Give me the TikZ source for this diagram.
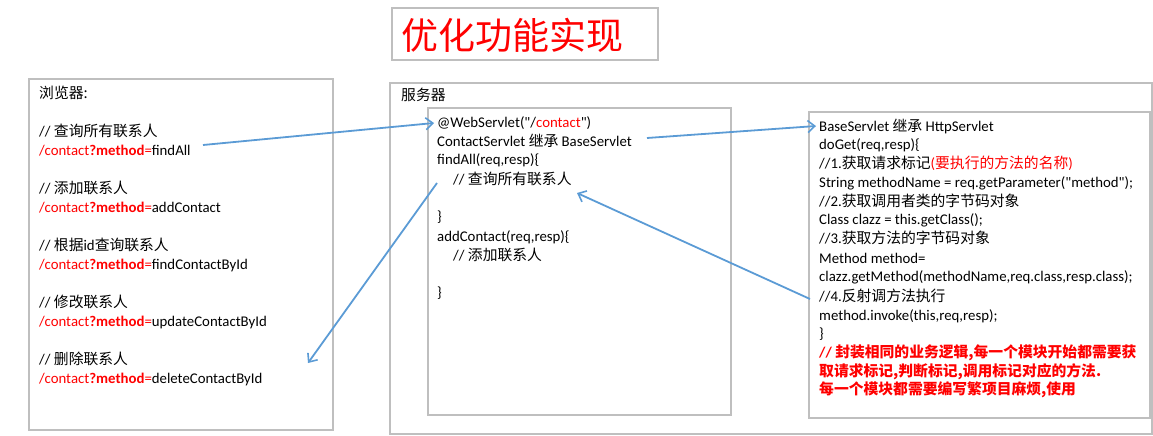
\documentclass[tikz,border=0pt]{standalone}
\usepackage{fontspec}
\setmainfont{Carlito}[Ligatures=TeXOff]
\newfontfamily\cjk{Noto Sans CJK SC}
\usetikzlibrary{arrows.meta}
\definecolor{boxgray}{HTML}{BFBFBF}
\definecolor{arrblue}{HTML}{5B9BD5}
\definecolor{txtred}{HTML}{FF0000}
\newcommand{\zh}[1]{{\cjk #1}}
\newcommand{\rd}[1]{{\color{txtred}#1}}
\newcommand{\url}[1]{\rd{/contact\textbf{?method}=}#1}
\begin{document}
\begin{tikzpicture}[x=1pt,y=-1pt,
  frame/.style={draw=boxgray,line width=1.2pt},
  txt/.style={anchor=west,inner sep=0pt,font=\fontsize{14.8}{16}\selectfont},
  arr/.style={draw=arrblue,line width=1.8pt,-{Straight Barb[length=7pt,width=12pt,line width=1.6pt]}}]
\useasboundingbox (0,0) rectangle (1153,436);
% title
\draw[frame] (392,8) rectangle (658,60);
\node[inner sep=0pt,text=txtred,font=\fontsize{37}{40}\selectfont\cjk] (title) at (512,35) {优化功能实现};
% browser box
\draw[frame] (29,79) rectangle (333,430);
\node[txt] (bt) at (39,93) {\zh{浏览器:}};
\node[txt] (bl1) at (39,131) {// \zh{查询所有联系人}};
\node[txt] (bl2) at (39,151) {\url{findAll}};
\node[txt] (bl3) at (39,188) {// \zh{添加联系人}};
\node[txt] (bl4) at (39,208) {\url{addContact}};
\node[txt] (bl5) at (39,245) {// \zh{根据}id\zh{查询联系人}};
\node[txt] (bl6) at (39,265) {\url{findContactById}};
\node[txt] (bl7) at (39,302) {// \zh{修改联系人}};
\node[txt] (bl8) at (39,322) {\url{updateContactById}};
\node[txt] (bl9) at (39,359) {// \zh{删除联系人}};
\node[txt] (bl10) at (39,379) {\url{deleteContactById}};
% server outer box
\draw[frame] (390,83) rectangle (1152,434);
\node[txt] (st) at (401,95) {\zh{服务器}};
% contact servlet box
\draw[frame] (428,108) rectangle (731,415);
\node[txt] (s1) at (437,123) {@WebServlet("/\rd{contact}")};
\node[txt] (s2) at (437,141) {ContactServlet \zh{继承} BaseServlet};
\node[txt] (s3) at (437,160) {findAll(req,resp)\{};
\node[txt] (s4) at (453,179) {// \zh{查询所有联系人}};
\node[txt] (s5) at (437,217) {\}};
\node[txt] (s6) at (437,237) {addContact(req,resp)\{};
\node[txt] (s7) at (453,255) {// \zh{添加联系人}};
\node[txt] (s8) at (437,293) {\}};
% base servlet box
\draw[frame] (809,112) rectangle (1150,418);
\node[txt] (b1) at (819,126) {BaseServlet \zh{继承} HttpServlet};
\node[txt] (b2) at (819,145) {doGet(req,resp)\{};
\node[txt] (b3) at (819,163) {//1.\zh{获取请求标记}\rd{(\zh{要执行的方法的名称})}};
\node[txt] (b4) at (819,183) {String methodName = req.getParameter("method");};
\node[txt] (b5) at (819,201) {//2.\zh{获取调用者类的字节码对象}};
\node[txt] (b6) at (819,220) {Class clazz = this.getClass();};
\node[txt] (b7) at (819,238) {//3.\zh{获取方法的字节码对象}};
\node[txt] (b8) at (819,258) {Method method=};
\node[txt] (b9) at (819,277) {clazz.getMethod(methodName,req.class,resp.class);};
\node[txt] (b10) at (819,296) {//4.\zh{反射调方法执行}};
\node[txt] (b11) at (819,316) {method.invoke(this,req,resp);};
\node[txt] (b12) at (819,334) {\}};
\node[txt,text=txtred] (b13) at (819,353) {\bfseries // {\cjk\bfseries 封装相同的业务逻辑,每一个模块开始都需要获}};
\node[txt,text=txtred] (b14) at (819,372) {{\cjk\bfseries 取请求标记,判断标记,调用标记对应的方法.}};
\node[txt,text=txtred] (b15) at (819,390) {{\cjk\bfseries 每一个模块都需要编写繁项目麻烦,使用}};
% connectors
\coordinate (a1s) at (203,145);
\coordinate (a2s) at (647,138);
\coordinate (a3s) at (437,183);
\coordinate (a3e) at (308,363);
\coordinate (a4s) at (810,299);
\coordinate (a4e) at (577,193);
\draw[arr] (a1s) -- ([xshift=-3pt]s1.west);
\draw[arr] (a2s) -- ([xshift=-3pt]b1.west);
\draw[arr] (a3s) -- (a3e);
\draw[arr] (a4s) -- (a4e);
\end{tikzpicture}
\end{document}
